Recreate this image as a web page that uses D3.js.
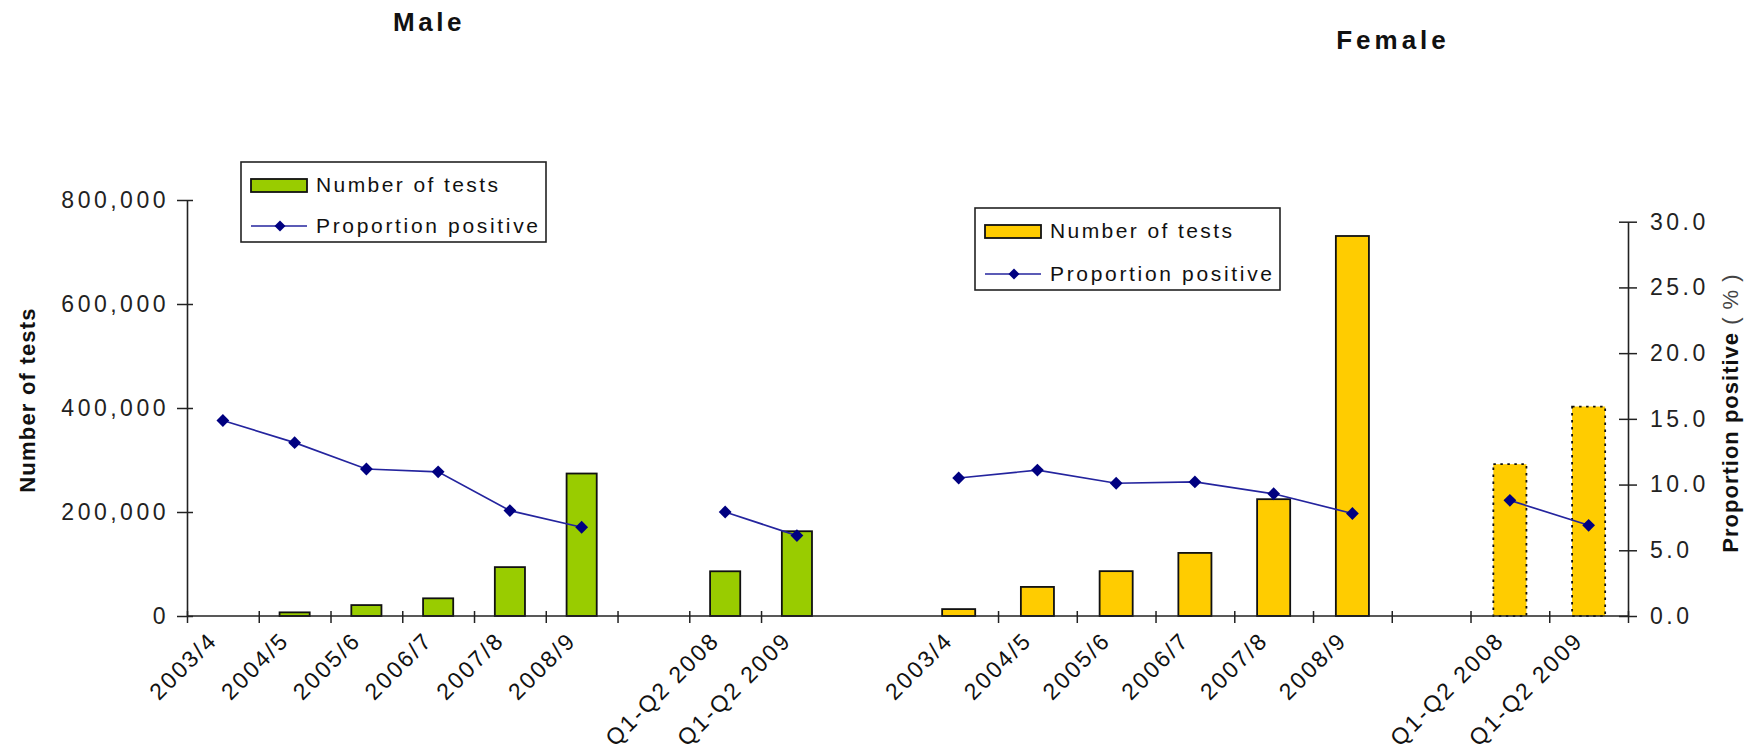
<!DOCTYPE html>
<html><head><meta charset="utf-8">
<script src="https://cdn.jsdelivr.net/npm/d3@7"></script>
<style>
body{margin:0;background:#fff}
svg{display:block}
text{font-family:"Liberation Sans",Arial,sans-serif}
</style>
</head><body>
<svg id="chart" width="1761" height="751"></svg>
<script>
// ---------- data ----------
const categories = ["2003/4","2004/5","2005/6","2006/7","2007/8","2008/9","","Q1-Q2 2008","Q1-Q2 2009"];
const maleTests = [0, 7000, 21000, 34000, 94000, 274000, null, 86000, 163000];
const maleProportion = [14.1, 12.5, 10.6, 10.4, 7.6, 6.4, null, 7.5, 5.8];
const femaleTests = [14000, 59000, 91000, 128000, 237000, 771000, null, 308000, 425000];
const femaleProportion = [10.5, 11.1, 10.1, 10.2, 9.3, 7.8, null, 8.8, 6.9];
const femaleDottedCategories = ["Q1-Q2 2008", "Q1-Q2 2009"];
const testTicks = [0, 200000, 400000, 600000, 800000];
const proportionTicks = [0, 5, 10, 15, 20, 25, 30];
const panelTitles = ["Male", "Female"];
const legendLabels = ["Number of tests", "Proportion positive"];
const axisTitles = ["Number of tests", "Proportion positive", " ( % )"];

// ---------- layout ----------
const svg = d3.select("#chart");
const baseY = 616;
const malePanel = {x0: 187, x1: 832.8, top: 200};
const femalePanel = {x0: 919.3, x1: 1628, top: 221.7};
const GREEN = "#99CC00", YELLOW = "#FFCC00", NAVY = "#000080", LINE = "#24249e";
const FONT = '"Liberation Sans",Arial,sans-serif';

const idx = d3.range(categories.length);
function band(p){ return d3.scaleBand().domain(idx).range([p.x0, p.x1]).paddingInner(0.58).paddingOuter(0.29); }
function edges(p){ return d3.scaleLinear().domain([0, categories.length]).range([p.x0, p.x1]); }

const xM = band(malePanel), xF = band(femalePanel);
const eM = edges(malePanel), eF = edges(femalePanel);
const yMT = d3.scaleLinear().domain([0, 800000]).range([baseY, malePanel.top]);
const yMP = d3.scaleLinear().domain([0, 30]).range([baseY, malePanel.top]);
const yFT = d3.scaleLinear().domain([0, 800000]).range([baseY, femalePanel.top]);
const yFP = d3.scaleLinear().domain([0, 30]).range([baseY, femalePanel.top]);

// ---------- titles ----------
svg.append("text").attr("x", 429).attr("y", 31).attr("text-anchor","middle")
  .attr("font-size", 26).attr("font-weight","bold").attr("letter-spacing", 3.5).attr("fill","#111").text(panelTitles[0]);
svg.append("text").attr("x", 1393).attr("y", 49).attr("text-anchor","middle")
  .attr("font-size", 26).attr("font-weight","bold").attr("letter-spacing", 4).attr("fill","#111").text(panelTitles[1]);

// ---------- bars ----------
function drawBars(vals, x, y, color, dotted){
  svg.append("g").selectAll("rect").data(idx.filter(i => vals[i] != null && vals[i] > 0)).join("rect")
    .attr("x", i => x(i)).attr("width", x.bandwidth())
    .attr("y", i => y(vals[i])).attr("height", i => baseY - y(vals[i]))
    .attr("fill", color).attr("stroke", "#111").attr("stroke-width", 1.8)
    .attr("stroke-dasharray", i => dotted(i) ? "2.5,4.5" : null);
}
drawBars(maleTests, xM, yMT, GREEN, () => false);
drawBars(femaleTests, xF, yFT, YELLOW, i => femaleDottedCategories.includes(categories[i]));

// ---------- baseline and x ticks ----------
svg.append("line").attr("x1", malePanel.x0).attr("x2", femalePanel.x1)
  .attr("y1", baseY).attr("y2", baseY).attr("stroke", "#222").attr("stroke-width", 1.6);

function xTicks(e, values){
  const g = svg.append("g").attr("transform", `translate(0,${baseY})`)
    .call(d3.axisBottom(e).tickValues(values).tickSize(7).tickSizeOuter(0).tickFormat(""));
  g.select(".domain").remove();
  g.selectAll(".tick line").attr("y1", -5).attr("stroke", "#222").attr("stroke-width", 1.5);
}
xTicks(eM, d3.range(0, categories.length));
xTicks(eF, d3.range(1, categories.length + 1));

function xLabels(x){
  const g = svg.append("g").attr("transform", `translate(0,${baseY})`)
    .call(d3.axisBottom(x).tickSize(0).tickFormat(i => categories[i]));
  g.select(".domain").remove();
  g.selectAll(".tick text")
    .attr("x", 0).attr("y", 0).attr("dy", "0.35em")
    .attr("transform", "translate(-10,20) rotate(-45)")
    .attr("text-anchor", "end")
    .attr("font-size", 23).attr("letter-spacing", 2.3).attr("fill", "#111")
    .attr("font-family", FONT);
}
xLabels(xM);
xLabels(xF);

// ---------- lines ----------
function drawLine(vals, x, y){
  const pts = idx.map(i => ({i, v: vals[i]}));
  svg.append("path").datum(pts)
    .attr("d", d3.line().defined(d => d.v != null).x(d => x(d.i) + x.bandwidth()/2).y(d => y(d.v)))
    .attr("fill", "none").attr("stroke", LINE).attr("stroke-width", 1.7);
  svg.append("g").selectAll("path").data(pts.filter(d => d.v != null)).join("path")
    .attr("d", d3.symbol(d3.symbolSquare, 82)())
    .attr("transform", d => `translate(${x(d.i) + x.bandwidth()/2},${y(d.v)}) rotate(45)`)
    .attr("fill", NAVY);
}
drawLine(maleProportion, xM, yMP);
drawLine(femaleProportion, xF, yFP);

// ---------- left axis ----------
const gL = svg.append("g").attr("transform", `translate(${malePanel.x0},0)`)
  .call(d3.axisLeft(yMT).tickValues(testTicks).tickFormat(d3.format(",")).tickSize(10).tickSizeOuter(0).tickPadding(8));
gL.select(".domain").attr("stroke", "#222").attr("stroke-width", 1.6);
gL.selectAll(".tick line").attr("x1", 6).attr("stroke", "#222").attr("stroke-width", 1.5);
gL.selectAll(".tick text").attr("font-size", 23).attr("letter-spacing", 3.5).attr("fill", "#222")
  .attr("font-family", FONT);

// ---------- right axis ----------
const gR = svg.append("g").attr("transform", `translate(${femalePanel.x1},0)`)
  .call(d3.axisRight(yFP).tickValues(proportionTicks).tickFormat(d3.format(".1f")).tickSize(9).tickSizeOuter(0).tickPadding(13));
gR.select(".domain").attr("stroke", "#222").attr("stroke-width", 1.6);
gR.selectAll(".tick line").attr("x1", -9).attr("stroke", "#222").attr("stroke-width", 1.5);
gR.selectAll(".tick text").attr("font-size", 23).attr("letter-spacing", 3.5).attr("fill", "#222")
  .attr("font-family", FONT);

// ---------- axis titles ----------
svg.append("text").attr("transform", "translate(35,400) rotate(-90)").attr("text-anchor", "middle")
  .attr("font-size", 22).attr("font-weight", "bold").attr("letter-spacing", 1.2).attr("fill", "#111").text(axisTitles[0]);
const rt = svg.append("text").attr("transform", "translate(1738,413) rotate(-90)").attr("text-anchor", "middle")
  .attr("font-size", 22).attr("letter-spacing", 1).attr("fill", "#111");
rt.append("tspan").attr("font-weight", "bold").text(axisTitles[1]);
rt.append("tspan").attr("fill", "#444").text(axisTitles[2]);

// ---------- legends ----------
function legend(bx, by, bw, bh, color){
  const g = svg.append("g").attr("transform", `translate(${bx},${by})`);
  g.append("rect").attr("width", bw).attr("height", bh).attr("fill", "#fff").attr("stroke", "#222").attr("stroke-width", 1.6);
  g.append("rect").attr("x", 10).attr("y", 17).attr("width", 56).attr("height", 13)
    .attr("fill", color).attr("stroke", "#111").attr("stroke-width", 1.8);
  g.append("line").attr("x1", 10).attr("x2", 66).attr("y1", bh - 16).attr("y2", bh - 16)
    .attr("stroke", LINE).attr("stroke-width", 1.7);
  g.append("path").attr("d", d3.symbol(d3.symbolSquare, 60)())
    .attr("transform", `translate(39,${bh - 16}) rotate(45)`).attr("fill", NAVY);
  g.append("text").attr("x", 75).attr("y", 23).attr("dy", "0.35em").attr("font-size", 21)
    .attr("textLength", 182).attr("lengthAdjust", "spacing").attr("fill", "#111").text(legendLabels[0]);
  g.append("text").attr("x", 75).attr("y", bh - 16).attr("dy", "0.35em").attr("font-size", 21)
    .attr("textLength", 222).attr("lengthAdjust", "spacing").attr("fill", "#111").text(legendLabels[1]);
}
legend(241, 162, 305, 80, GREEN);
legend(975, 208, 305, 82, YELLOW);
</script>
</body></html>
